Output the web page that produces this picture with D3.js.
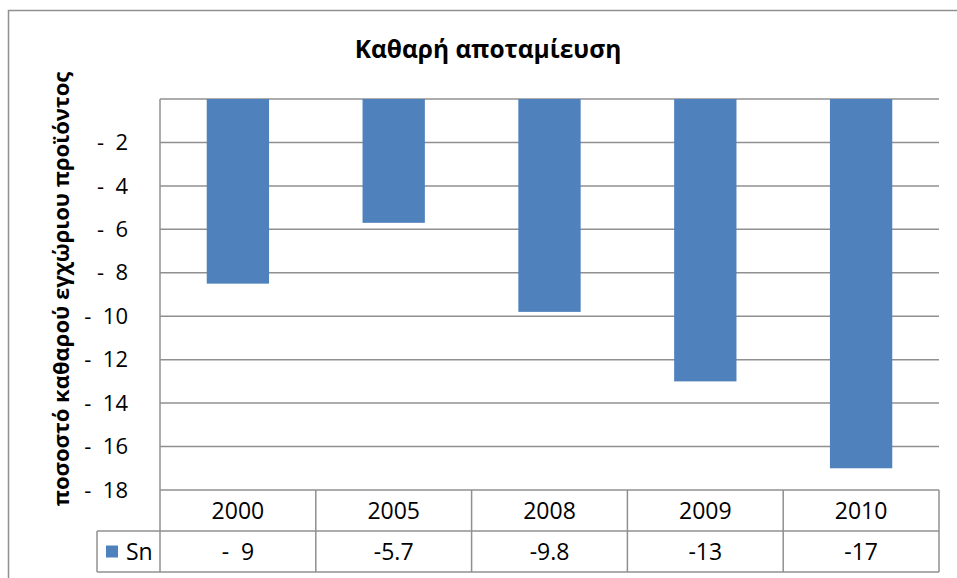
<!DOCTYPE html>
<html>
<head>
    <meta charset="utf-8">
    <title>Καθαρή αποταμίευση</title>
    <script src="https://cdnjs.cloudflare.com/ajax/libs/d3/7.8.5/d3.min.js"></script>
    <style>
        body {
            margin: 0;
            background: white;
            font-family: "Open Sans", sans-serif;
        }
        .label {
            font-size: 22px;
            fill: #000;
            white-space: pre;
        }
        .table-label {
            font-size: 23px;
        }
        .grid line, .cell {
            stroke: #909090;
            stroke-width: 1.5;
        }
    </style>
</head>
<body>
    <div id="chart"></div>
    <script>
        const years = ["2000", "2005", "2008", "2009", "2010"];
        const values = [-8.5, -5.7, -9.8, -13, -17];
        const tableLabels = ["-  9", "-5.7", "-9.8", "-13", "-17"];
        const yTicks = [-2, -4, -6, -8, -10, -12, -14, -16, -18];
        const seriesName = "Sn";
        const barColor = "#4f81bd";

        const W = 957, H = 578;
        const plot = { left: 160, right: 939, top: 99, bottom: 490 };
        const rowH = 41;

        const svg = d3.select("#chart")
            .append("svg")
            .attr("width", W)
            .attr("height", H);

        // outer chart border
        svg.append("rect")
            .attr("x", 8.5).attr("y", 10.5)
            .attr("width", W + 10).attr("height", H + 10)
            .attr("fill", "none")
            .attr("stroke", "#909090")
            .attr("stroke-width", 1.5);

        const x = d3.scaleBand()
            .domain(years)
            .range([plot.left, plot.right]);

        const y = d3.scaleLinear()
            .domain([0, -18])
            .range([plot.top, plot.bottom]);

        // gridlines
        svg.append("g")
            .attr("class", "grid")
            .selectAll("line")
            .data([0].concat(yTicks))
            .join("line")
            .attr("x1", plot.left)
            .attr("x2", plot.right)
            .attr("y1", d => y(d))
            .attr("y2", d => y(d));

        // bars
        const barW = x.bandwidth() / 2.5;
        svg.append("g")
            .selectAll("rect")
            .data(values)
            .join("rect")
            .attr("x", (d, i) => x(years[i]) + (x.bandwidth() - barW) / 2)
            .attr("y", y(0))
            .attr("width", barW)
            .attr("height", d => y(d) - y(0))
            .attr("fill", barColor);

        // vertical axis line
        svg.append("line")
            .attr("class", "cell")
            .attr("x1", plot.left).attr("x2", plot.left)
            .attr("y1", plot.top).attr("y2", plot.bottom + rowH * 2);

        // y tick labels
        svg.append("g")
            .selectAll("text")
            .data(yTicks)
            .join("text")
            .attr("class", "label")
            .attr("x", 128)
            .attr("y", d => y(d))
            .attr("dy", "0.35em")
            .attr("text-anchor", "end")
            .text(d => "-  " + Math.abs(d));

        // data table
        const table = svg.append("g");
        const r1 = plot.bottom, r2 = plot.bottom + rowH, r3 = plot.bottom + rowH * 2;
        const tableLeft = 97;

        table.append("line").attr("class", "cell")
            .attr("x1", tableLeft).attr("x2", plot.right).attr("y1", r2).attr("y2", r2);
        table.append("line").attr("class", "cell")
            .attr("x1", tableLeft).attr("x2", plot.right).attr("y1", r3).attr("y2", r3);
        table.append("line").attr("class", "cell")
            .attr("x1", tableLeft).attr("x2", tableLeft).attr("y1", r2).attr("y2", r3);

        table.selectAll("line.col")
            .data(years)
            .join("line")
            .attr("class", "cell col")
            .attr("x1", d => x(d) + x.bandwidth())
            .attr("x2", d => x(d) + x.bandwidth())
            .attr("y1", r1).attr("y2", r3);

        table.selectAll("text.year")
            .data(years)
            .join("text")
            .attr("class", "label table-label year")
            .attr("x", d => x(d) + x.bandwidth() / 2)
            .attr("y", (r1 + r2) / 2)
            .attr("dy", "0.35em")
            .attr("text-anchor", "middle")
            .text(d => d);

        table.selectAll("text.val")
            .data(tableLabels)
            .join("text")
            .attr("class", "label table-label val")
            .attr("x", (d, i) => x(years[i]) + x.bandwidth() / 2)
            .attr("y", (r2 + r3) / 2)
            .attr("dy", "0.35em")
            .attr("text-anchor", "middle")
            .text(d => d);

        // legend key in table
        table.append("rect")
            .attr("x", 106).attr("y", (r2 + r3) / 2 - 6)
            .attr("width", 12).attr("height", 12)
            .attr("fill", barColor);
        table.append("text")
            .attr("class", "label table-label")
            .attr("x", 126)
            .attr("y", (r2 + r3) / 2)
            .attr("dy", "0.35em")
            .text(seriesName);

        // title
        svg.append("text")
            .attr("x", 488)
            .attr("y", 58)
            .attr("text-anchor", "middle")
            .style("font-size", "24.5px")
            .style("font-weight", "bold")
            .text("Καθαρή αποταμίευση");

        // y axis title
        svg.append("text")
            .attr("transform", "translate(69,289) rotate(-90)")
            .attr("text-anchor", "middle")
            .style("font-size", "22px")
            .style("font-weight", "bold")
            .text("ποσοστό καθαρού εγχώριου προϊόντος");
    </script>
</body>
</html>
